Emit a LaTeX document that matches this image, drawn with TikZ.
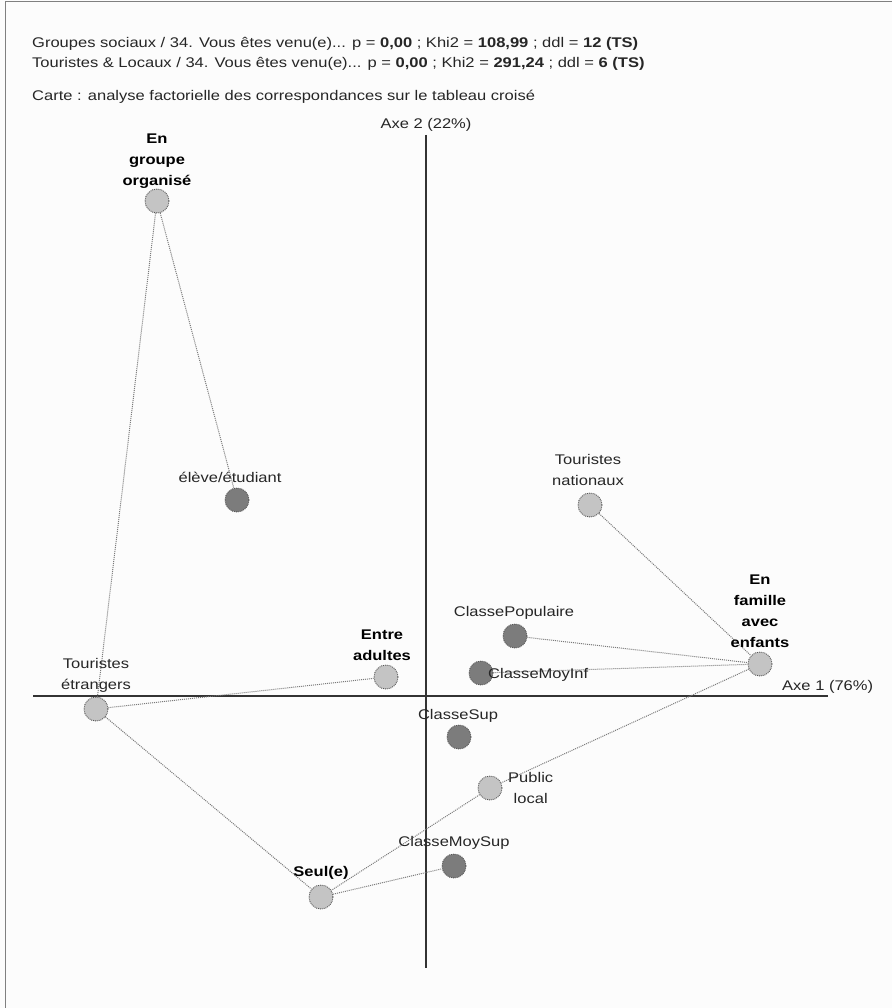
\documentclass[tikz,border=0pt]{standalone}
\usepackage{fontspec}
\setmainfont[FakeStretch=1.18]{Liberation Sans}
\definecolor{lightpt}{HTML}{C4C4C4}
\definecolor{darkpt}{HTML}{7C7C7C}
\definecolor{rimc}{HTML}{555555}
\definecolor{linkc}{HTML}{7A7A7A}
\definecolor{axisc}{HTML}{333333}
\begin{document}
\begin{tikzpicture}[x=1pt,y=-1pt,
  pt/.style={circle,inner sep=0pt,minimum size=24pt,draw=rimc,densely dotted,line width=0.9pt},
  lpt/.style={pt,fill=lightpt},
  dpt/.style={pt,fill=darkpt},
  lab/.style={font=\fontsize{14}{21}\selectfont,text=black!85,inner sep=0pt,align=center},
  blab/.style={font=\fontsize{14}{21}\selectfont\bfseries,text=black,inner sep=0pt,align=center},
  link/.style={draw=linkc,densely dotted,line width=1pt},
  axis/.style={draw=axisc,line width=1.1pt},
  hdr/.style={font=\fontsize{14}{16}\selectfont,text=black!85,inner sep=0pt,anchor=west}]
\useasboundingbox (0,0) rectangle (892,1008);
\fill[white!98!gray] (0,0) rectangle (892,1008);
\draw[gray,line width=1pt] (5,1008) -- (5,2) -- (892,2);
% header
\node[hdr] (h1) at (32,44) {Groupes sociaux / 34. Vous êtes venu(e)... p = \textbf{0,00} ; Khi2 = \textbf{108,99} ; ddl = \textbf{12} \textbf{(TS)}};
\node[hdr] (h2) at (32,64) {Touristes \& Locaux / 34. Vous êtes venu(e)... p = \textbf{0,00} ; Khi2 = \textbf{291,24} ; ddl = \textbf{6} \textbf{(TS)}};
\node[hdr] (h3) at (32,97) {Carte : analyse factorielle des correspondances sur le tableau croisé};
% axes
\coordinate (xa) at (33,696);
\coordinate (xb) at (828,696);
\coordinate (ya) at (426,135);
\coordinate (yb) at (426,968);
\draw[axis] (xa) -- (xb);
\draw[axis] (ya) -- (yb);
\node[lab] (ax2) at (426,125) {Axe 2 (22\%)};
\node[lab,anchor=west] (ax1) at (782,687) {Axe 1 (76\%)};
% points
\node[lpt] (grp) at (157,201) {};
\node[dpt] (ele) at (237,500) {};
\node[lpt] (tnat) at (590,505) {};
\node[lpt] (fam) at (760,664) {};
\node[dpt] (cpop) at (515,636) {};
\node[dpt] (cmi) at (481,673) {};
\node[lpt] (adu) at (386,677) {};
\node[lpt] (tetr) at (96,709) {};
\node[dpt] (csup) at (459,737) {};
\node[lpt] (plo) at (490,788) {};
\node[dpt] (cms) at (454,866) {};
\node[lpt] (seul) at (321,897) {};
% links
\draw[link] (grp) -- (ele);
\draw[link] (grp) -- (tetr);
\draw[link] (tnat) -- (fam);
\draw[link] (cpop) -- (fam);
\draw[link] (cmi) -- (fam);
\draw[link] (fam) -- (plo);
\draw[link] (plo) -- (seul);
\draw[link] (seul) -- (cms);
\draw[link] (tetr) -- (adu);
\draw[link] (tetr) -- (seul);
% labels
\node[blab] (lgrp) at (157,161) {En\\groupe\\organisé};
\node[lab] (lele) at (230,477) {élève/étudiant};
\node[lab] (ltnat) at (588,470) {Touristes\\nationaux};
\node[blab] (lfam) at (760,611) {En\\famille\\avec\\enfants};
\node[lab] (lcpop) at (514,613) {ClassePopulaire};
\node[lab,anchor=west] (lcmi) at (488,675) {ClasseMoyInf};
\node[blab] (ladu) at (382,645) {Entre\\adultes};
\node[lab] (ltetr) at (96,675) {Touristes\\étrangers};
\node[lab] (lcsup) at (458,716) {ClasseSup};
\node[lab,anchor=west] (lplo) at (508,788) {Public\\local};
\node[lab] (lcms) at (454,843) {ClasseMoySup};
\node[blab] (lseul) at (321,873) {Seul(e)};
\end{tikzpicture}
\end{document}
